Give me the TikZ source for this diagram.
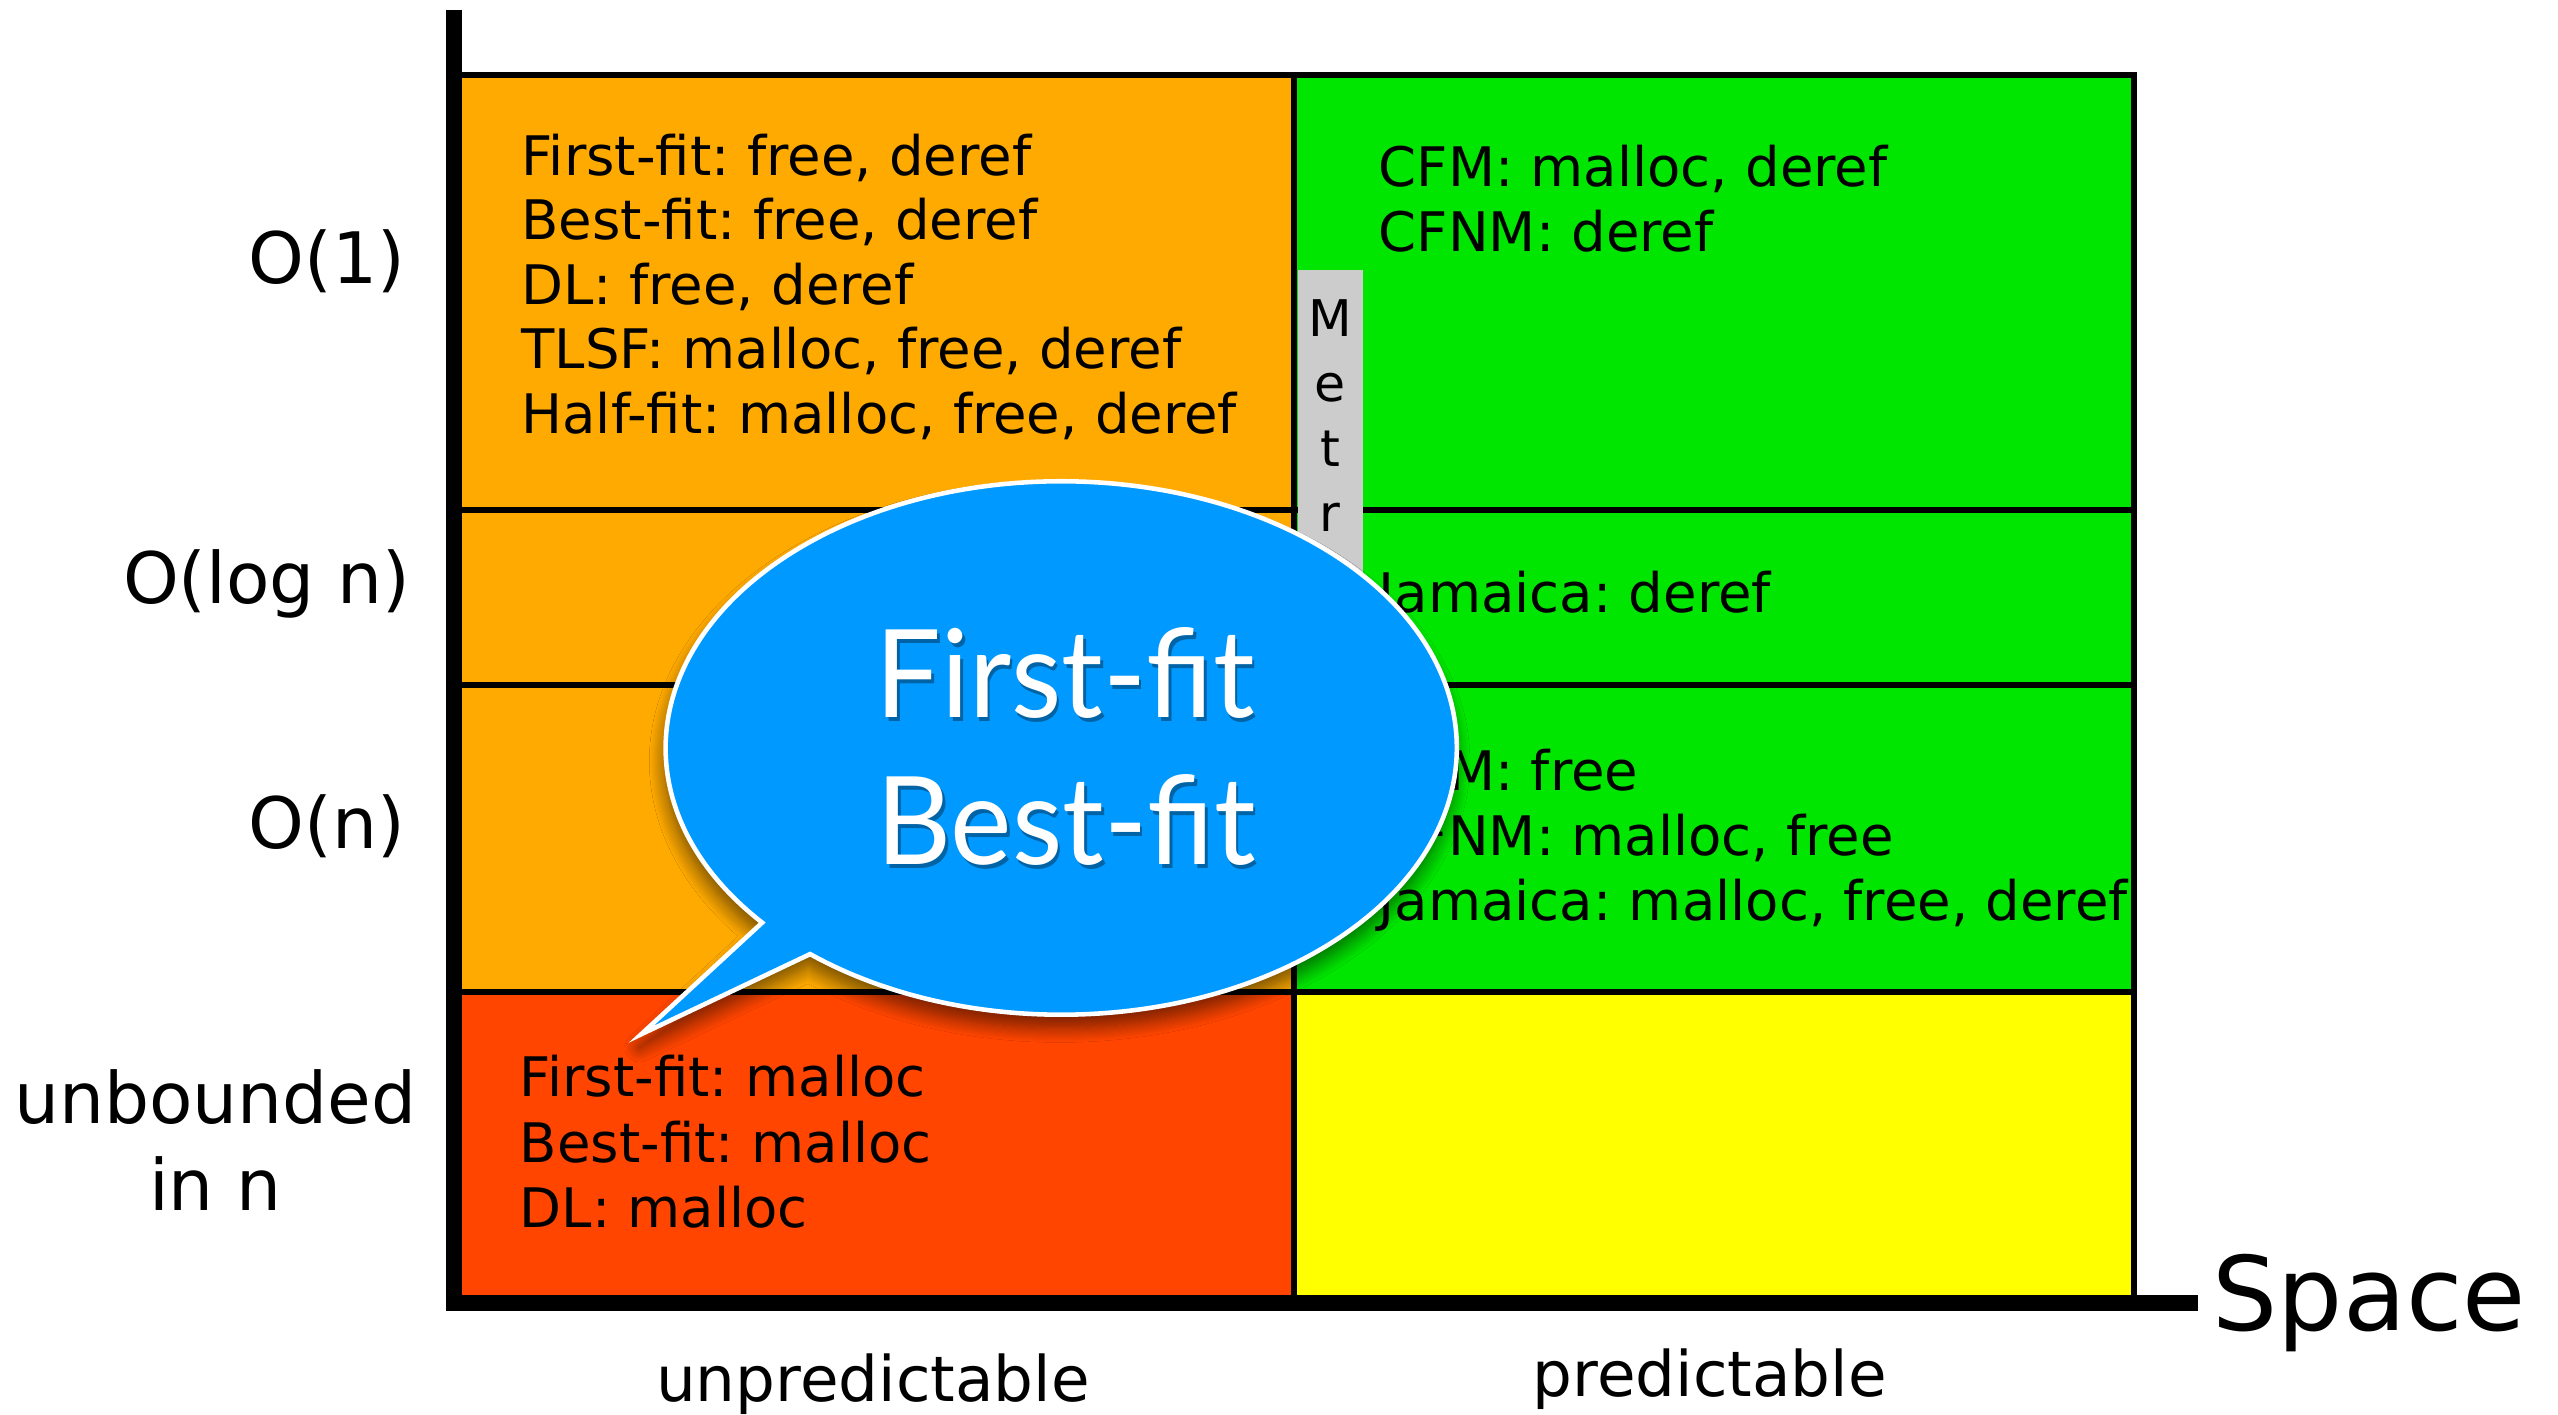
\documentclass[tikz,border=0pt]{standalone}
\usepackage{fontspec}
\setmainfont{DejaVu Sans}
\newfontfamily\bubblefont[FakeStretch=0.95]{Lato}
\usetikzlibrary{shadows.blur}
\frenchspacing

\definecolor{cellorange}{RGB}{255,170,0}
\definecolor{cellgreen}{RGB}{0,230,0}
\definecolor{cellred}{RGB}{255,69,0}
\definecolor{cellyellow}{RGB}{255,255,0}
\definecolor{tabgray}{RGB}{204,204,204}
\definecolor{bubbleblue}{RGB}{0,153,255}

\begin{document}
\begin{tikzpicture}[x=1pt,y=-1pt,
  celltext/.style={anchor=base west, inner sep=0pt, font=\fontsize{33.4}{40}\selectfont},
  rowlabel/.style={anchor=base east, inner sep=0pt, font=\fontsize{43.5}{52}\selectfont},
  collabel/.style={anchor=base, inner sep=0pt, font=\fontsize{38.5}{46}\selectfont},
  tabletter/.style={anchor=base, inner sep=0pt, font=\fontsize{31}{37}\selectfont},
  gridline/.style={line width=3.7pt},
  axisline/.style={line width=9.8pt},
  bubbletext/.style={anchor=base, inner sep=0pt, font=\bubblefont\fontsize{75}{90}\selectfont}]

\useasboundingbox (0,0) rectangle (1568,867);

% cell fills
\fill[cellorange] (280,45.8) rectangle (793,608);
\fill[cellgreen]  (793,45.8) rectangle (1308.2,608);
\fill[cellred]    (280,608)  rectangle (793,798.7);
\fill[cellyellow] (793,608)  rectangle (1308.2,798.7);

% grid lines
\draw[gridline] (278,45.8) -- (1308.2,45.8) -- (1308.2,798.7);
\foreach \y in {312.5,420,608}
  \draw[gridline] (278,\y) -- (1308.2,\y);
\draw[gridline] (793,45.8) -- (793,798.7);

% vertical tab in the O(1) row
\fill[tabgray] (795.5,165.5) rectangle (835.5,400);
\foreach \c [count=\i] in {M,e,t,r}
  \node[tabletter] (tab\i) at (815.3,{206.4+39.8*(\i-1)}) {\c};

% cell contents
\foreach \t [count=\i] in {{First-fit: free, deref},{Best-fit: free, deref},{DL: free, deref},{TLSF: malloc, free, deref},{Half-fit: malloc, free, deref}}
  \node[celltext] (oc\i) at (319.5,{107.3+39.6*(\i-1)}) {\t};
\foreach \t [count=\i] in {{CFM: malloc, deref},{CFNM: deref}}
  \node[celltext] (gc\i) at (845,{114.4+39.9*(\i-1)}) {\t};
\node[celltext] (glog) at (845,375.4) {Jamaica: deref};
\foreach \t [count=\i] in {{CFM: free},{CFNM: malloc, free},{Jamaica: malloc, free, deref}}
  \node[celltext] (gn\i) at (845,{484.4+40*(\i-1)}) {\t};
\foreach \t [count=\i] in {{First-fit: malloc},{Best-fit: malloc},{DL: malloc}}
  \node[celltext] (rc\i) at (318.5,{672.3+40*(\i-1)}) {\t};

% axes
\coordinate (ytop) at (278.1,6);
\coordinate (origin) at (278.1,798.7);
\coordinate (xend) at (1347.5,798.7);
\draw[axisline] (ytop) -- ([yshift=-4.9pt]origin);
\draw[axisline] ([xshift=-4.9pt]origin) -- (xend);

% axis labels
\node[rowlabel] (o1)   at (248.5,173.7) {O(1)};
\node[rowlabel] (olog) at (251.5,369.8) {O(log n)};
\node[rowlabel] (on)   at (248.5,520.3) {O(n)};
\node[anchor=base, inner sep=0pt, font=\fontsize{43.5}{52}\selectfont] (unb) at (132,688.5) {unbounded};
\node[anchor=base, inner sep=0pt, font=\fontsize{43.5}{52}\selectfont] (inn) at (132,742) {in n};
\node[collabel] (unpred) at (535,859) {unpredictable};
\node[collabel] (pred)   at (1048,856) {predictable};
\node[anchor=base west, inner sep=0pt, font=\fontsize{63}{75}\selectfont] (space) at (1356,815.7) {Space};

% speech bubble
\coordinate (bc) at (650.5,458.5);
\coordinate (tip) at (393,634);
\path[draw=white, line width=2.8pt, fill=bubbleblue,
      blur shadow={shadow xshift=-1pt, shadow yshift=-8pt, shadow blur radius=9pt,
                   shadow opacity=55, shadow blur steps=14}]
  (bc) ++(220.9:242.5pt and 163.5pt)
  arc[start angle=220.9, end angle=-129.4, x radius=242.5pt, y radius=163.5pt]
  -- (tip) -- cycle;

\node[bubbletext, black, opacity=0.35] (s1) at (654.5,442.5) {First-fit};
\node[bubbletext, black, opacity=0.35] (s2) at (655,532.5) {Best-fit};
\node[bubbletext, white] (b1) at (653,440) {First-fit};
\node[bubbletext, white] (b2) at (653.5,530) {Best-fit};
\end{tikzpicture}
\end{document}
